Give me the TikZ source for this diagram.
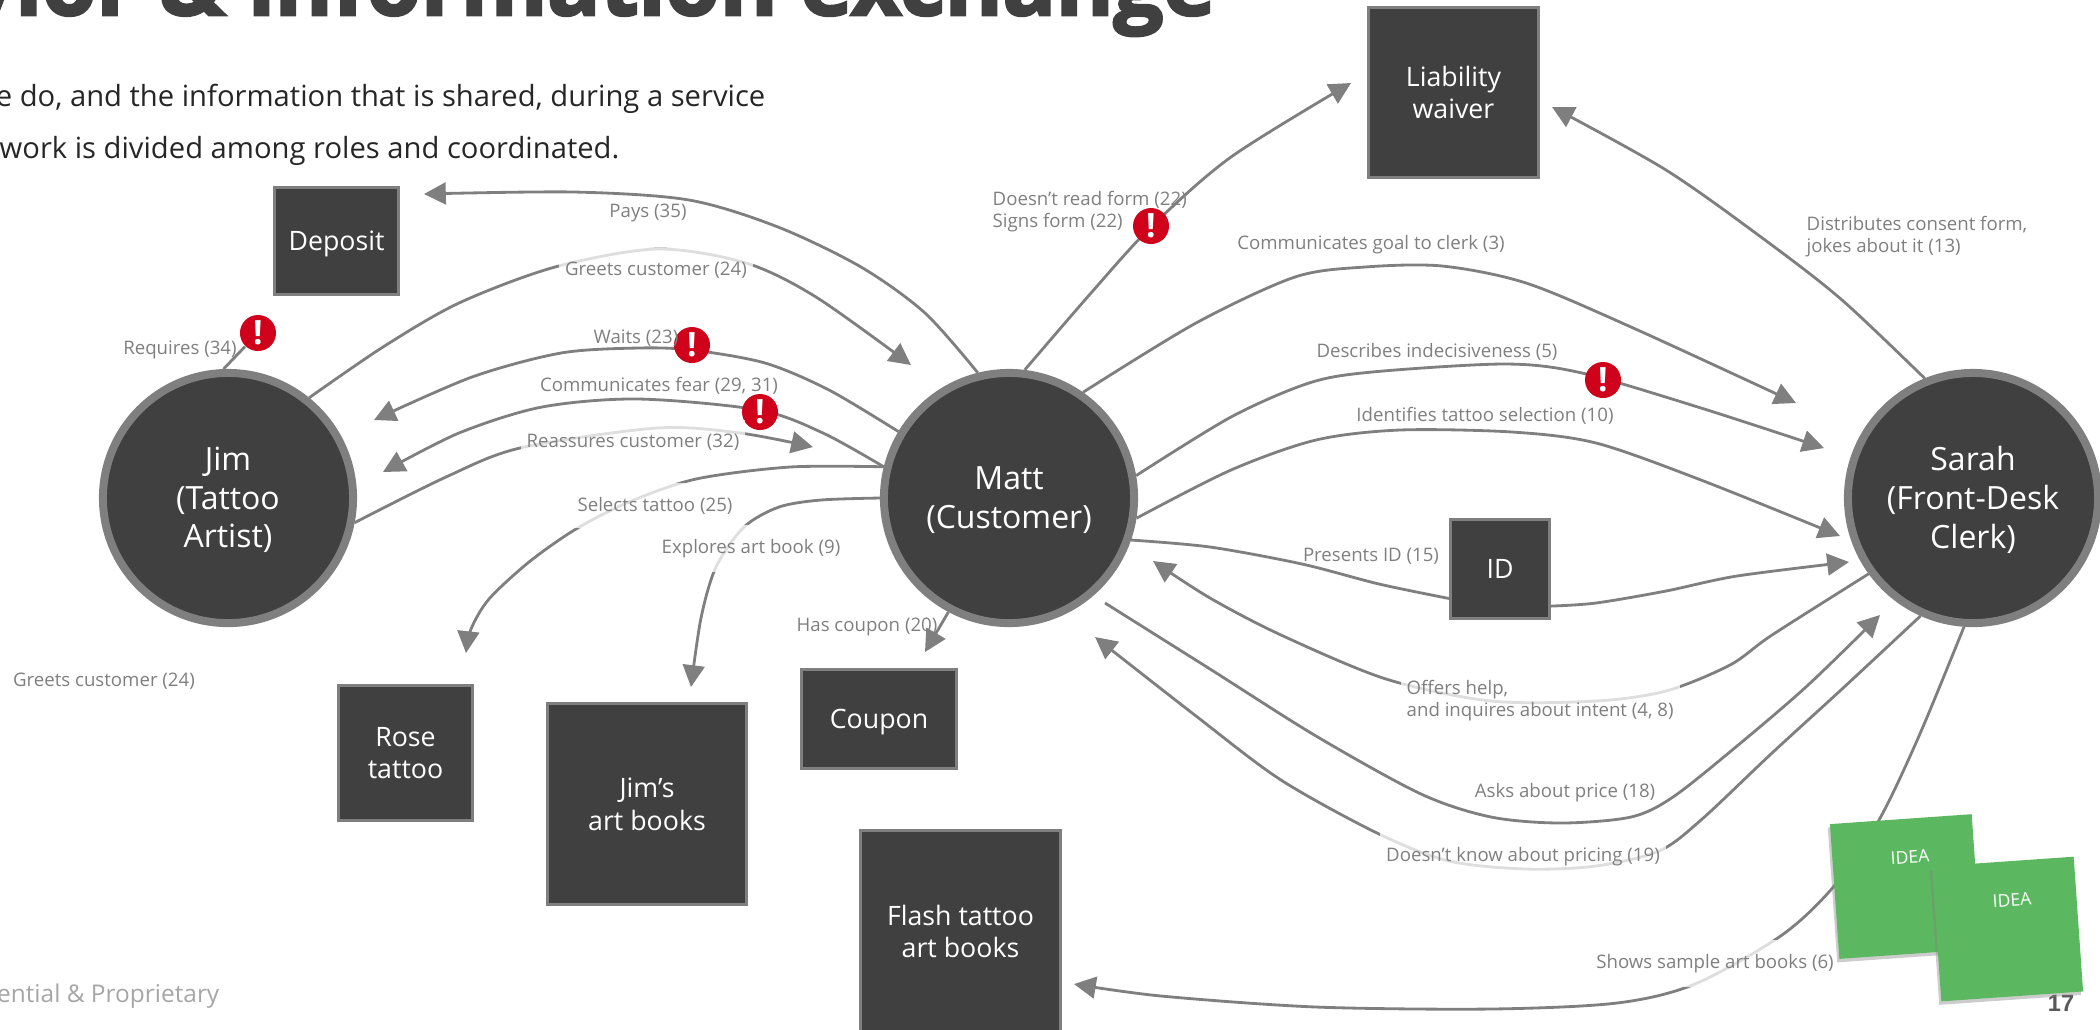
\documentclass[tikz,border=0pt]{standalone}
\usepackage{fontspec}
\setmainfont{Open Sans}
\newfontfamily\titlefont[UprightFont=* Bold,FakeBold=3]{Open Sans}
\newfontfamily\pagefont{Liberation Sans}
\usepackage{tikz}
\usetikzlibrary{arrows.meta,shadows}
\definecolor{darkfill}{HTML}{404040}
\definecolor{linegray}{HTML}{7F7F7F}
\definecolor{alertred}{HTML}{D0021B}
\definecolor{ideagreen}{HTML}{5CB860}
\tikzset{
    person/.style={circle,fill=darkfill,draw=linegray,line width=0.08cm,minimum size=2.5cm,inner sep=0pt,text=white,align=center,text depth=0.4pt,font=\fontsize{9.1}{11}\selectfont},
    thing/.style={rectangle,fill=darkfill,draw=linegray,line width=0.03cm,inner sep=0pt,text=white,align=center,text depth=0pt,font=\fontsize{7.6}{9.2}\selectfont},
    plain/.style={draw=linegray,line width=0.8pt},
    flow/.style={plain,-{Stealth[inset=0pt,length=6.2pt,width=6.2pt]}},
    note/.style={text=linegray,align=left,inner sep=0pt,yshift=-0.025cm,font=\fontsize{5.3}{6.3}\selectfont},
    notefade/.style={note,fill=white,fill opacity=0.75,text opacity=1,inner xsep=1.7pt,inner ysep=4pt},
    alert/.style={circle,fill=alertred,minimum size=0.36cm,inner sep=0pt,text=white,font=\fontsize{9.5}{9.5}\selectfont\bfseries},
    card/.style={rectangle,fill=ideagreen,minimum width=1.42cm,minimum height=1.35cm,rotate=4,drop shadow={shadow xshift=-0.6pt,shadow yshift=-1pt,opacity=0.4}},
    cardtext/.style={text=white,rotate=4,inner sep=0pt,font=\fontsize{5}{6}\selectfont}
}
\begin{document}
\begin{tikzpicture}[x=0.01cm,y=-0.01cm]
        \path[use as bounding box,clip] (0,0) rectangle (2100,1029);
        \node[anchor=base east,text=darkfill,inner sep=0pt,font=\fontsize{25}{25}\titlefont] (title) at (1216,15) {vior \& information exchange};
        \node[anchor=east,inner sep=0pt,text=black!85,font=\fontsize{8.3}{10}\selectfont] (bodya) at (766,99) {e do, and the information that is shared, during a service};
        \node[anchor=east,inner sep=0pt,text=black!85,font=\fontsize{8.3}{10}\selectfont] (bodyb) at (620,151) {work is divided among roles and coordinated.};
        \node[anchor=east,inner sep=0pt,text=black!35,font=\fontsize{6.95}{8}\selectfont] (footer) at (220,996) {ential \& Proprietary};
        \node[inner sep=0pt,text=black!65,font=\fontsize{6.7}{8}\pagefont\bfseries] (pagenum) at (2061,1003) {17};
        \node[person] (jim) at (228,498) {Jim\\(Tattoo\\Artist)};
        \node[person] (matt) at (1009,498) {Matt\\(Customer)};
        \node[person] (sarah) at (1973,498) {Sarah\\(Front-Desk\\Clerk)};
        \node[thing,minimum width=1.24cm,minimum height=1.07cm] (deposit) at (336.5,241) {Deposit};
        \node[thing,minimum width=1.70cm,minimum height=1.70cm] (waiver) at (1453.5,92.5) {Liability\\waiver};
        \node[thing,minimum width=0.99cm,minimum height=0.99cm] (id) at (1500,569) {ID};
        \node[thing,minimum width=1.34cm,minimum height=1.35cm] (rose) at (405.5,753) {Rose\\tattoo};
        \node[thing,minimum width=1.99cm,minimum height=2.01cm] (artbooks) at (647,804) {Jim’s\\art books};
        \node[thing,minimum width=1.55cm,minimum height=0.99cm] (coupon) at (879,719) {Coupon};
        \node[thing,minimum width=2.00cm,minimum height=2.01cm] (flash) at (960.5,931) {Flash tattoo\\art books};
        \coordinate (tipdeposit) at (424,194);
        \coordinate (tipgreet) at (911,365);
        \coordinate (tipwaits) at (374,420);
        \coordinate (tipfear) at (383,472);
        \coordinate (tipreassure) at (813,447);
        \coordinate (tiprose) at (466,653);
        \coordinate (tipbook) at (691,687);
        \coordinate (tipcoupon) at (925,652);
        \coordinate (tipform) at (1351,83);
        \coordinate (tipgoal) at (1796,403);
        \coordinate (tipdescribe) at (1824,448);
        \coordinate (tipselect) at (1840,536);
        \coordinate (tipid) at (1849,562);
        \coordinate (tiphelp) at (1153,561);
        \coordinate (startprice) at (1105,603);
        \coordinate (tipprice) at (1880,615);
        \coordinate (tippricing) at (1095,637);
        \coordinate (tipflash) at (1074,984);
        \coordinate (tipconsent) at (1552,107);
        \draw[flow] plot[smooth] coordinates {(matt.104) (925,313) (861,267) (778,227) (689,200) (574,192) (tipdeposit)};
        \draw[flow] plot[smooth] coordinates {(jim.51) (383,347) (459,303) (555,267) (657,249) (746,263) (816,297) (tipgreet)};
        \draw[flow] plot[smooth] coordinates {(matt.149) (829,390) (765,363) (692,350) (638,348) (561,353) (472,377) (tipwaits)};
        \draw[flow] plot[smooth] coordinates {(matt.166) (823,433) (759,410) (638,399) (542,407) (459,433) (tipfear)};
        \draw[flow] plot[smooth] coordinates {(jim.-11) (446,477) (520,448) (657,428) (740,433) (tipreassure)};
        \draw[flow] plot[smooth] coordinates {(matt.166) (790,467) (696,479) (629,502) (576,529) (529,562) (489,599) (471,629) (tiprose)};
        \draw[flow] plot[smooth] coordinates {(matt.180) (821,500) (779,507) (744,527) (716,567) (701,618) (tipbook)};
        \draw[flow] (matt.242) -- (tipcoupon);
        \draw[flow] plot[smooth] coordinates {(matt.83) (1091,293) (1151,227) (1231,157) (tipform)};
        \draw[flow] plot[smooth] coordinates {(matt.55) (1196,323) (1295,277) (1365,267) (1442,266) (1526,283) (1631,327) (tipgoal)};
        \draw[flow] plot[smooth] coordinates {(matt.10) (1231,417) (1309,383) (1372,372) (1505,364) (1582,373) (1701,408) (tipdescribe)};
        \draw[flow] plot[smooth] coordinates {(matt.-9) (1231,470) (1316,440) (1400,430) (1512,432) (1596,443) (1701,480) (tipselect)};
        \draw[plain] plot[smooth] coordinates {(matt.-19) (1210,547) (1302,564) (1379,584) (id.210)};
        \draw[flow] plot[smooth] coordinates {(id.-36) (1596,603) (1666,591) (1737,576) (tipid)};
        \draw[flow] plot[smooth] coordinates {(sarah.216) (1772,635) (1730,665) (1666,691) (1596,701) (1491,701) (1386,679) (1281,635) (1210,598) (tiphelp)};
        \draw[flow] plot[smooth] coordinates {(startprice) (1210,669) (1316,736) (1421,794) (1491,817) (1561,823) (1631,817) (1673,797) (1737,746) (1807,686) (tipprice)};
        \draw[flow] plot[smooth] coordinates {(sarah.246) (1842,689) (1772,753) (1701,820) (1659,851) (1596,866) (1526,869) (1449,861) (1379,834) (1281,780) (1196,716) (tippricing)};
        \draw[flow] plot[smooth] coordinates {(sarah.266) (1919,736) (1879,820) (1835,885) (1782,935) (1695,984) (1617,1003) (1491,1009) (1316,1007) (1161,996) (tipflash)};
        \draw[flow] plot[smooth] coordinates {(sarah.112) (1842,300) (1765,240) (1666,170) (tipconsent)};
        \foreach \n/\x/\y in {alertreq/258/333,alertwait/692/345,alertfear/760/412,alertform/1151/226,alertdesc/1603/380}
            \node[alert] (\n) at (\x,\y) {!};
        \draw[plain] (jim.92) -- (alertreq);
        \node[note] (pays) at (648,210) {Pays (35)};
        \node[notefade] (greet) at (656,268) {Greets customer (24)};
        \node[note] (requires) at (180,347) {Requires (34)};
        \node[note] (waits) at (636,336) {Waits (23)};
        \node[note] (fear) at (659,383) {Communicates fear (29, 31)};
        \node[notefade] (reassure) at (633,440) {Reassures customer (32)};
        \node[notefade] (selects) at (655,503) {Selects tattoo (25)};
        \node[notefade] (explores) at (751,546) {Explores art book (9)};
        \node[note] (hascoupon) at (867,624) {Has coupon (20)};
        \node[note] (greetb) at (104,679) {Greets customer (24)};
        \node[note,anchor=west] (form) at (992,209) {Doesn’t read form (22)\\Signs form (22)};
        \node[note] (goal) at (1371,242) {Communicates goal to clerk (3)};
        \node[note] (describe) at (1437,349) {Describes indecisiveness (5)};
        \node[note] (identify) at (1485,413) {Identifies tattoo selection (10)};
        \node[note] (presents) at (1371,554) {Presents ID (15)};
        \node[note,anchor=west] (consent) at (1806,234) {Distributes consent form,\\jokes about it (13)};
        \node[notefade,anchor=west] (help) at (1400,698) {Offers help,\\and inquires about intent (4, 8)};
        \node[note] (price) at (1565,790) {Asks about price (18)};
        \node[notefade] (pricing) at (1523,854) {Doesn’t know about pricing (19)};
        \node[notefade] (sample) at (1715,961) {Shows sample art books (6)};
        \node[card] (ideaa) at (1905.5,886.5) {};
        \node[cardtext] (ideaatext) at (1910,857) {IDEA};
        \node[card] (ideab) at (2007.5,929) {};
        \node[cardtext] (ideabtext) at (2012,900) {IDEA};
    \end{tikzpicture}
\end{document}
